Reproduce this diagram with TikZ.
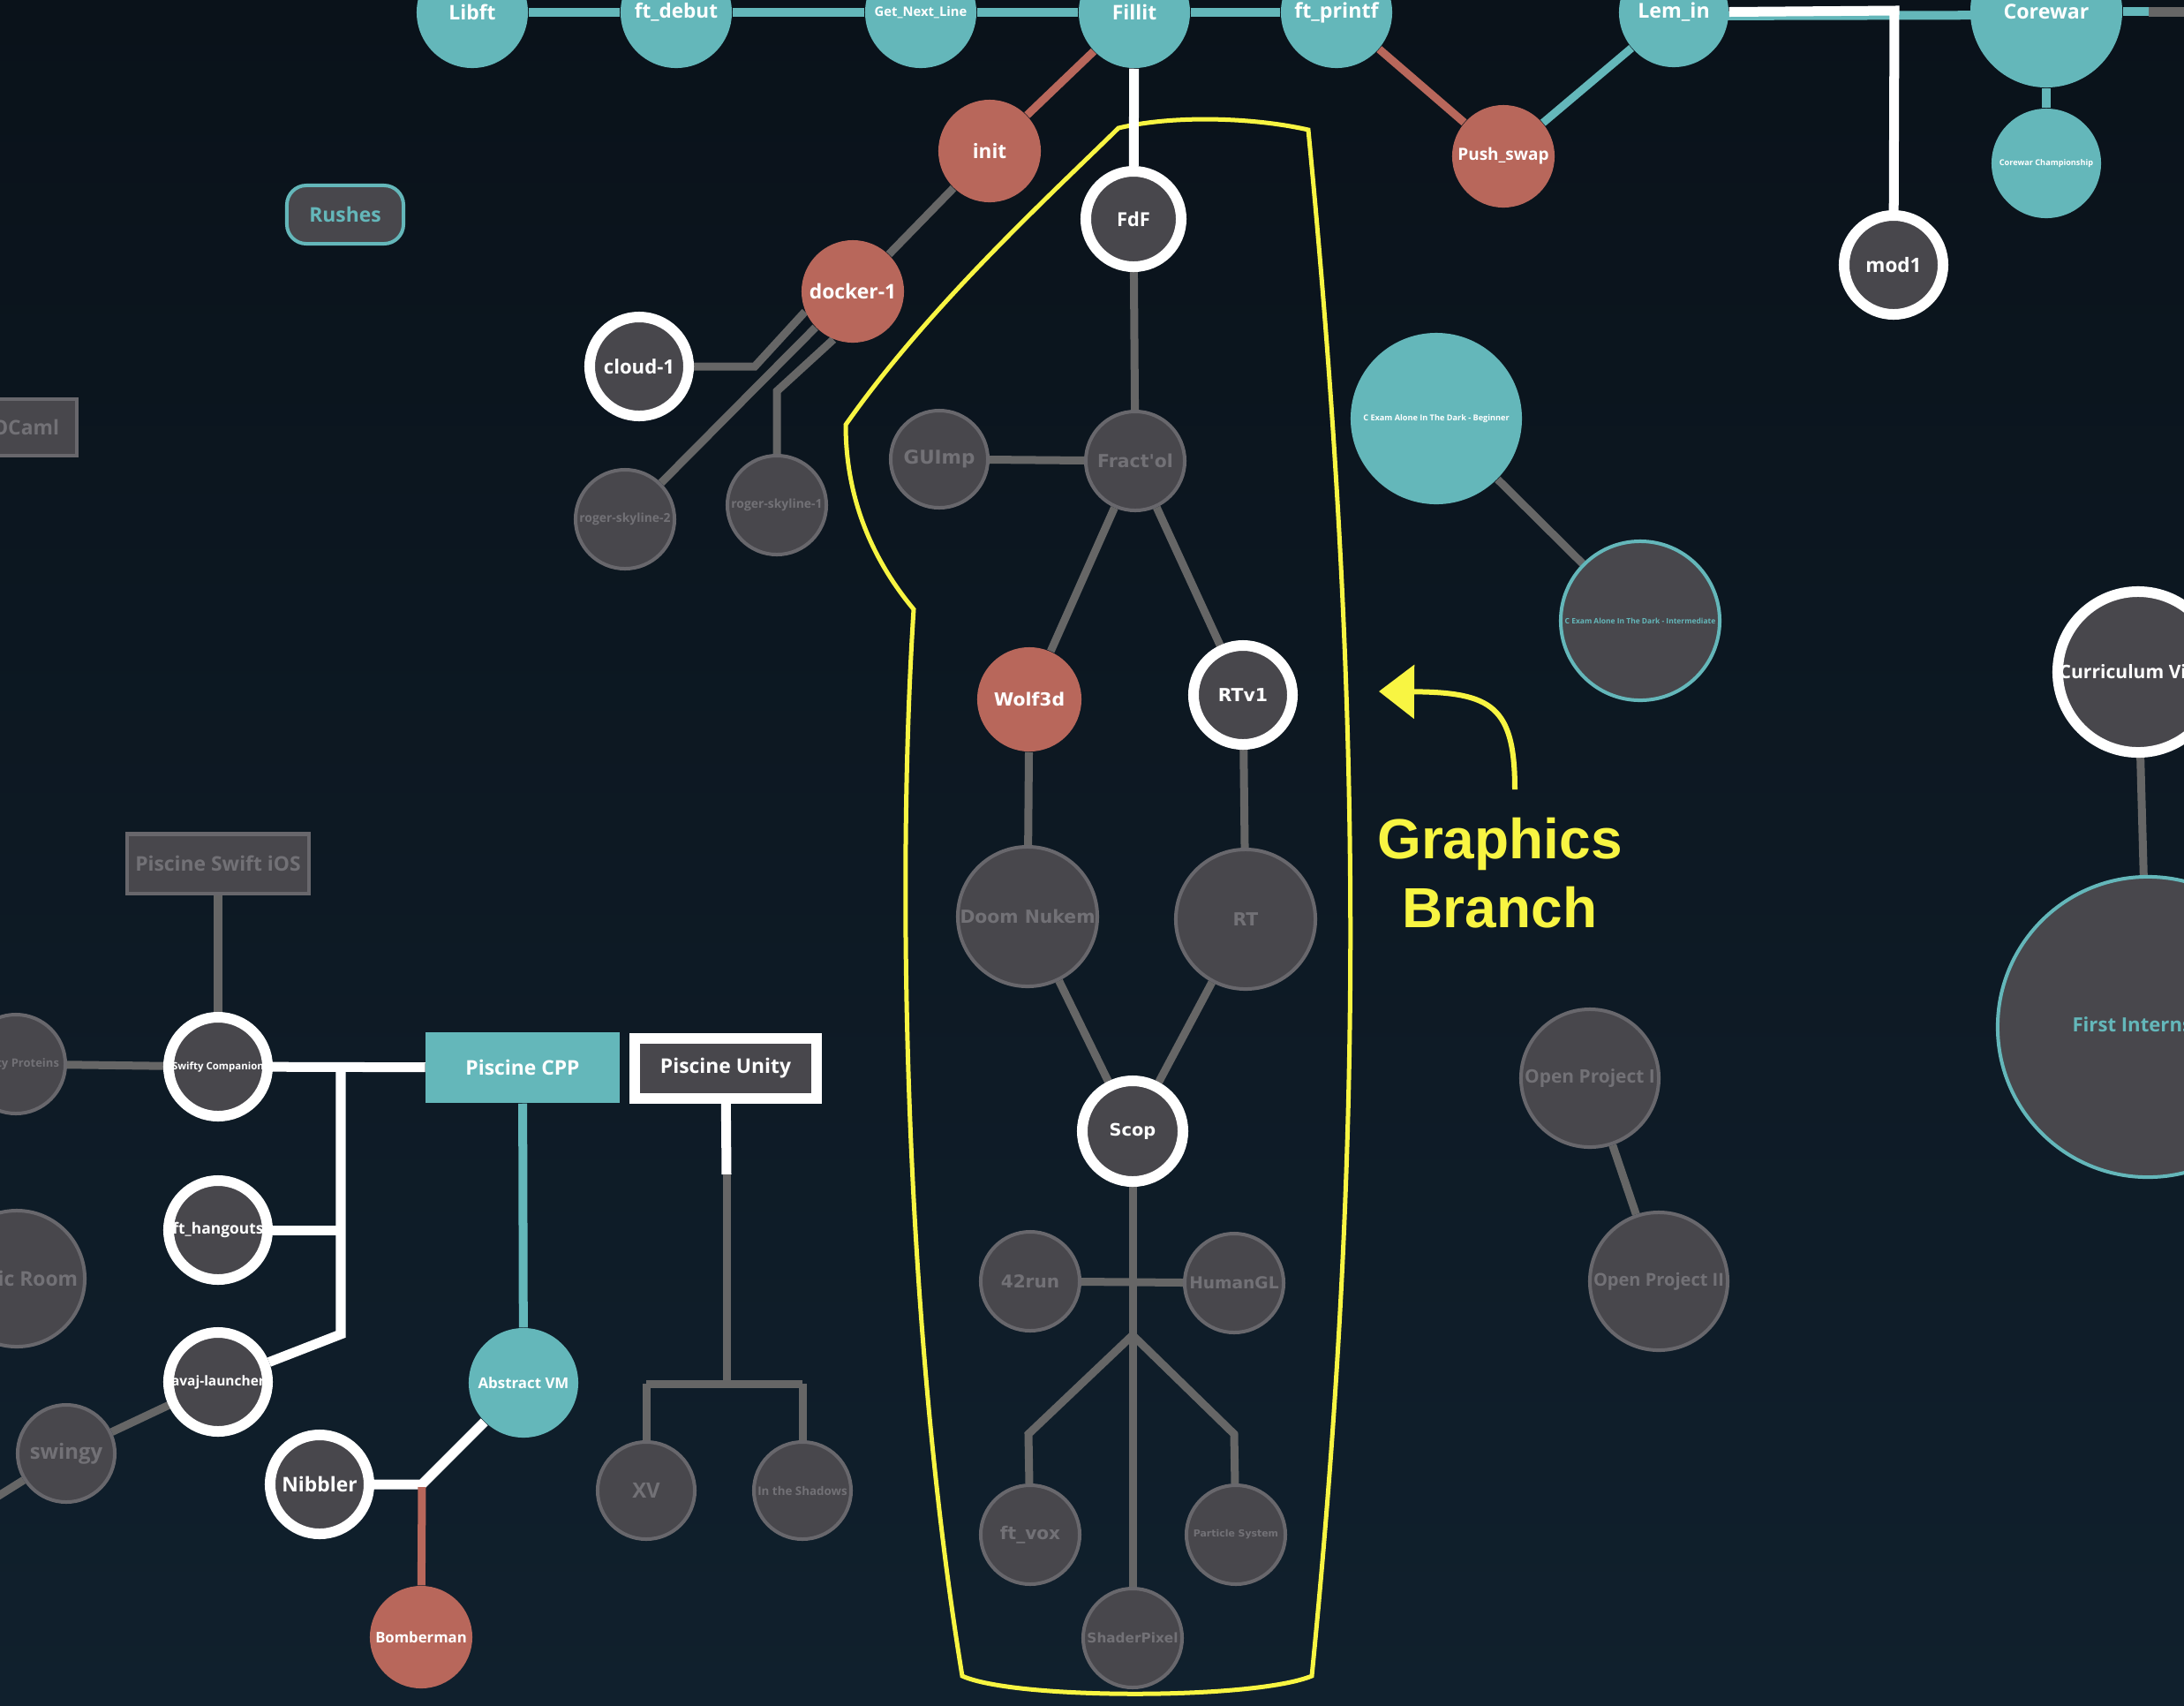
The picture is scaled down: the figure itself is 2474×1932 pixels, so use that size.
\documentclass[tikz,border=0pt]{standalone}
\usepackage{fontspec}
\usetikzlibrary{arrows.meta}
\newfontfamily\os{Open Sans}
\newfontfamily\dv{DejaVu Sans}
\newfontfamily\lsans{Liberation Sans}
\newcommand\fs[1]{\fontsize{#1}{#1}\selectfont}
\definecolor{bgtop}{HTML}{0A121A}
\definecolor{bgbot}{HTML}{10202D}
\definecolor{tealc}{HTML}{64B7BA}
\definecolor{salm}{HTML}{B8675B}
\definecolor{darkn}{HTML}{48474C}
\definecolor{grayb}{HTML}{68676C}
\definecolor{grayt}{HTML}{727176}
\definecolor{grayl}{HTML}{666666}
\definecolor{yel}{HTML}{F8F542}
\pgfdeclarelayer{bg}
\pgfsetlayers{bg,main}
\begin{document}
\begin{tikzpicture}[x=0.01cm,y=-0.01cm,
 nd/.style={circle,inner sep=0pt,align=center,font=\os\bfseries},
 tealn/.style={nd,fill=tealc,text=white},
 salmn/.style={nd,fill=salm,text=white},
 ringn/.style={nd,fill=darkn,draw=white,line width=0.12cm,text=white},
 grayn/.style={nd,fill=darkn,draw=grayb,line width=0.04cm,text=grayt},
 tringn/.style={nd,fill=darkn,draw=tealc,line width=0.04cm,text=tealc},
 gfx/.style={font=\dv\bfseries},
 boxn/.style={rectangle,inner sep=0pt,align=center,font=\os\bfseries},
 tl/.style={draw=tealc,line width=0.1cm},
 wl/.style={draw=white,line width=0.11cm},
 gl/.style={draw=grayl,line width=0.09cm},
 rl/.style={draw=salm,line width=0.09cm},
 yl/.style={draw=yel,line width=0.05cm}]
\useasboundingbox (0,0) rectangle (2474,1932);

% ---------- nodes: top row ----------
\node[tealn,minimum size=1.26cm] (libft) at (535,14) {\fs{6.5}Libft};
\node[tealn,minimum size=1.26cm] (ftdebut) at (766,14) {\fs{6.4}ft\_debut};
\node[tealn,minimum size=1.26cm] (gnl) at (1043,14) {\fs{4.2}Get\_Next\_Line};
\node[tealn,minimum size=1.26cm] (fillit) at (1285,14) {\fs{6.5}Fillit};
\node[tealn,minimum size=1.26cm] (ftprintf) at (1514,14) {\fs{6.6}ft\_printf};
\node[tealn,minimum size=1.24cm] (lemin) at (1896,14) {\fs{6.6}Lem\_in};
\node[tealn,minimum size=1.72cm] (corewar) at (2318,13) {\fs{6.6}Corewar};
\node[tealn,minimum size=1.24cm] (corechamp) at (2318,185) {\fs{2.6}Corewar Championship};
\node[salmn,minimum size=1.16cm] (pushswap) at (1703,177) {\fs{5.4}Push\_swap};
\node[ringn,minimum size=1.12cm] (mod1) at (2145,300) {\fs{6.4}mod1};

% ---------- upper left ----------
\node[salmn,minimum size=1.16cm] (init) at (1121,171) {\fs{6.4}init};
\node[salmn,minimum size=1.16cm] (docker) at (966,330) {\fs{6.5}docker-1};
\node[ringn,minimum size=1.12cm] (cloud) at (724,415) {\fs{6.3}cloud-1};
\node[grayn,minimum size=1.12cm] (rs2) at (708,588) {\fs{3.95}roger-skyline-2};
\node[grayn,minimum size=1.12cm] (rs1) at (880,572) {\fs{3.95}roger-skyline-1};
\node[boxn,fill=darkn,draw=tealc,line width=0.04cm,rounded corners=0.22cm,
      minimum width=1.32cm,minimum height=0.66cm,text=tealc] (rushes) at (391,243) {\fs{6.5}Rushes};
\node[boxn,fill=darkn,draw=grayb,line width=0.04cm,minimum width=1.15cm,
      minimum height=0.64cm,text=grayt] (ocaml) at (29,484) {\fs{6.5}OCaml};

% ---------- graphics branch ----------
\node[ringn,minimum size=1.08cm] (fdf) at (1284,248) {\fs{6.2}FdF};
\node[grayn,gfx,minimum size=1.12cm] (fractol) at (1286,522) {\fs{5.8}Fract'ol};
\node[grayn,gfx,minimum size=1.10cm] (guimp) at (1064,520) {\fs{6.1}GUImp};
\node[salmn,gfx,minimum size=1.18cm] (wolf) at (1166,792) {\fs{5.8}Wolf3d};
\node[ringn,gfx,minimum size=1.12cm] (rtv1) at (1408,787) {\fs{5.8}RTv1};
\node[grayn,gfx,minimum size=1.58cm] (doom) at (1164,1038) {\fs{5.8}Doom Nukem};
\node[grayn,gfx,minimum size=1.58cm] (rt) at (1411,1041) {\fs{5.8}RT};
\node[ringn,gfx,minimum size=1.14cm] (scop) at (1283,1281) {\fs{5.5}Scop};
\node[grayn,gfx,minimum size=1.12cm] (run42) at (1167,1451) {\fs{5.7}42run};
\node[grayn,gfx,minimum size=1.12cm] (humangl) at (1398,1453) {\fs{5.3}HumanGL};
\node[grayn,gfx,minimum size=1.12cm] (ftvox) at (1167,1738) {\fs{5.7}ft\_vox};
\node[grayn,gfx,minimum size=1.12cm] (particle) at (1400,1738) {\fs{3.1}Particle System};
\node[grayn,gfx,minimum size=1.12cm] (shader) at (1283,1855) {\fs{4.35}ShaderPixel};

% ---------- right ----------
\node[tealn,minimum size=1.94cm] (cexam1) at (1627,474) {\fs{2.6}C Exam Alone In The Dark - Beginner};
\node[tringn,minimum size=1.80cm] (cexam2) at (1858,703) {\fs{2.4}C Exam Alone In The Dark - Intermediate};
\node[ringn,minimum size=1.82cm] (cv) at (2422,761) {\fs{6.0}Curriculum Vitae};
\node[tringn,minimum size=3.40cm] (first) at (2433,1163) {\fs{6.3}First Internship};
\node[grayn,minimum size=1.56cm] (op1) at (1801,1221) {\fs{5.95}Open Project I};
\node[grayn,minimum size=1.56cm] (op2) at (1879,1451) {\fs{5.7}Open Project II};

% ---------- lower left ----------
\node[boxn,fill=darkn,draw=grayb,line width=0.04cm,minimum width=2.05cm,
      minimum height=0.67cm,text=grayt] (swiftios) at (247,978) {\fs{6.5}Piscine Swift iOS};
\node[ringn,minimum size=1.12cm] (swiftycomp) at (247,1208) {\fs{3.25}Swifty Companion};
\node[grayn,minimum size=1.12cm] (swiftyprot) at (18,1205) {\fs{3.7}Swifty Proteins};
\node[boxn,fill=tealc,minimum width=2.19cm,minimum height=0.80cm,text=white] (cpp) at (592,1209) {\fs{6.5}Piscine CPP};
\node[boxn,fill=darkn,draw=white,line width=0.12cm,minimum width=2.06cm,
      minimum height=0.68cm,text=white] (unity) at (822,1210) {\fs{6.5}Piscine Unity};
\node[ringn,minimum size=1.12cm] (hangouts) at (247,1393) {\fs{4.95}ft\_hangouts};
\node[ringn,minimum size=1.12cm] (avaj) at (247,1565) {\fs{4.4}avaj-launcher};
\node[grayn,minimum size=1.54cm] (music) at (19,1448) {\fs{6.5}Music Room};
\node[grayn,minimum size=1.10cm] (swingy) at (75,1646) {\fs{6.8}swingy};
\node[tealn,minimum size=1.24cm] (avm) at (593,1566) {\fs{4.8}Abstract VM};
\node[ringn,minimum size=1.12cm] (nibbler) at (362,1681) {\fs{6.5}Nibbler};
\node[salmn,minimum size=1.16cm] (bomber) at (477,1854) {\fs{4.75}Bomberman};
\node[grayn,minimum size=1.10cm] (xv) at (732,1688) {\fs{6.8}XV};
\node[grayn,minimum size=1.10cm] (shadows) at (909,1688) {\fs{3.8}In the Shadows};

% ---------- annotation ----------
\node[font=\lsans\bfseries,text=yel,anchor=base,inner sep=0pt] (gtext) at (1699,972) {\fs{18.2}Graphics};
\node[font=\lsans\bfseries,text=yel,anchor=base,inner sep=0pt] (btext) at (1699,1050) {\fs{18.2}Branch};
\coordinate (arrS) at (1716,894);
\coordinate (arrT) at (1562,783);
\draw[yl,line width=0.06cm,-{Triangle[length=0.4cm,width=0.6cm]}]
  (arrS) .. controls (1716,800) and (1690,784) .. (arrT);

% ---------- elbow points ----------
\coordinate (lemE) at (2146,12);
\coordinate (cwE) at (2434,13);
\coordinate (cwF) at (2520,13);
\coordinate (clE) at (855,415);
\coordinate (rs1E) at (880,443);
\coordinate (brP) at (1283,1512);
\coordinate (brL) at (1165,1624);
\coordinate (brR) at (1398,1624);
\coordinate (swV) at (386,1208);
\coordinate (hgV) at (386,1393);
\coordinate (avV) at (386,1511);
\coordinate (swOut) at (-40,1718);
\coordinate (nbJ) at (478,1681);
\coordinate (nbR) at (478,1684);
\coordinate (unW) at (823,1330);
\coordinate (unJ) at (823,1567);
\coordinate (unL) at (732,1567);
\coordinate (unR) at (909,1567);

\begin{pgfonlayer}{bg}
\shade[top color=bgtop,bottom color=bgbot] (0,0) rectangle (2474,1932);
% yellow outline
\draw[yl] (1267,145) .. controls (1330,130) and (1420,133) .. (1482,147)
  .. controls (1545,800) and (1545,1300) .. (1486,1898)
  .. controls (1420,1925) and (1150,1925) .. (1090,1898)
  .. controls (1025,1500) and (1015,1000) .. (1035,690)
  .. controls (985,630) and (958,560) .. (958,481)
  .. controls (1050,350) and (1180,230) .. cycle;
% top row
\draw[tl] (libft) -- (ftdebut);
\draw[tl] (ftdebut) -- (gnl);
\draw[tl] (gnl) -- (fillit);
\draw[tl] (fillit) -- (ftprintf);
\draw[tl] ([yshift=-0.04cm]lemin.center) -- ([yshift=-0.04cm]corewar.center);
\draw[wl] (lemin) -- (lemE) -- (mod1);
\draw[tl] (corewar) -- (corechamp);
\draw[tl] (corewar) -- (cwE);
\draw[gl,line width=0.11cm] (cwE) -- (cwF);
\draw[rl] (ftprintf) -- (pushswap);
\draw[tl,line width=0.09cm] (lemin) -- (pushswap);
\draw[rl] (fillit) -- (init);
\draw[wl] (fillit) -- (fdf);
% upper left
\draw[gl] (init) -- (docker);
\draw[gl] (docker.203) -- (clE) -- (cloud);
\draw[gl] (docker.224) -- (rs2);
\draw[gl] (docker.248) -- (rs1E) -- (rs1);
% graphics
\draw[gl] (fdf) -- (fractol);
\draw[gl] (guimp) -- (fractol);
\draw[gl] (fractol) -- (wolf);
\draw[gl] (fractol) -- (rtv1);
\draw[gl] (wolf) -- (doom);
\draw[gl] (rtv1) -- (rt);
\draw[gl] (doom) -- (scop);
\draw[gl] (rt) -- (scop);
\draw[gl] (scop) -- (shader);
\draw[gl] (run42) -- (humangl);
\draw[gl] (brP) -- (brL) -- (ftvox);
\draw[gl] (brP) -- (brR) -- (particle);
% right
\draw[gl] (cexam1) -- (cexam2);
\draw[gl] (cv) -- (first);
\draw[gl] (op1) -- (op2);
% lower left
\draw[gl] (swiftios) -- (swiftycomp);
\draw[gl] (swiftyprot) -- (swiftycomp);
\draw[wl] (swiftycomp) -- (cpp);
\draw[wl] (swV) -- (avV) -- (avaj);
\draw[wl] (hangouts) -- (hgV);
\draw[tl] (cpp) -- (avm);
\draw[gl] (avaj) -- (swingy);
\draw[gl] (swingy) -- (swOut);
\draw[wl] (nibbler) -- (nbJ) -- (avm);
\draw[rl] (nbR) -- (bomber);
\draw[wl] (unity) -- (unW);
\draw[gl] (unW) -- (unJ);
\draw[gl] (unL) -- (unR);
\draw[gl] (unL) -- (xv);
\draw[gl] (unR) -- (shadows);
\end{pgfonlayer}
\end{tikzpicture}
\end{document}
